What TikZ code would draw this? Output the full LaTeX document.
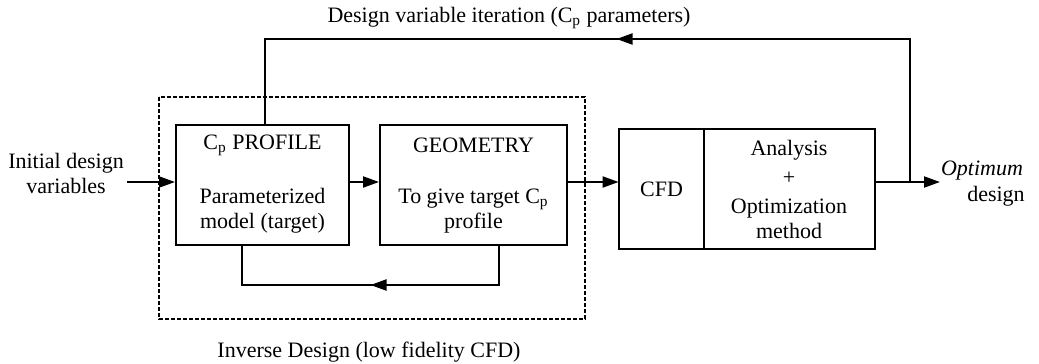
\documentclass[tikz,border=0pt]{standalone}
\usepackage{fontspec}
\setmainfont{Liberation Serif}
\usetikzlibrary{arrows.meta,decorations.markings}
\newcommand{\Cp}{C\textsubscript{p}}
\begin{document}
\begin{tikzpicture}[x=0.5pt,y=-0.5pt,
  every node/.style={font=\fontsize{11}{13.5}\selectfont},
  block/.style={draw,line width=1pt,minimum height=60pt,inner sep=0pt,align=center},
  cell/.style={minimum height=60pt,inner sep=0pt,align=center},
  flow/.style={line width=1pt,-{Triangle[length=8pt,width=5.5pt]}},
  link/.style={line width=1pt},
  midarrow/.style={decoration={markings,mark=at position #1 with {\arrow{Triangle[length=8pt,width=5.5pt]}}},postaction={decorate}},
  lbl/.style={inner sep=0pt,align=center}]
\useasboundingbox (0,0) rectangle (1039,364);

% inverse design frame
\draw[line width=0.6pt,dash pattern=on 2pt off 1pt] (159,97) rectangle (585,319);

% blocks
\node[block,minimum width=86.5pt] (cp) at (262.5,185) {};
\node[block,minimum width=93.5pt] (geo) at (473.5,185) {};
\node[cell,minimum width=42.5pt] (cfd) at (661.5,189) {};
\node[cell,minimum width=85pt,anchor=west] (ana) at (cfd.east) {};
\draw[line width=1pt] (cfd.north west) rectangle (ana.south east);
\draw[line width=1pt] (cfd.north east) -- (cfd.south east);

% block texts
\node[lbl] (cpt) at (262.5,145) {\Cp{} PROFILE};
\node[lbl] (cpb) at (262.5,211) {Parameterized\\[-1pt]model (target)};
\node[lbl] (geot) at (473.5,145) {GEOMETRY};
\node[lbl] (geob) at (473.5,211) {To give target \Cp\\[-1pt]profile};
\node[lbl] (cfdt) at (cfd.center) {CFD};
\node[lbl] (anat) at (789,189) {Analysis\\[1pt]+\\[1pt]Optimization\\[-1pt]method};

% outside texts
\node[lbl] (init) at (66,173) {Initial design\\[-1pt]variables};
\node[lbl,font=\fontsize{11}{13.5}\selectfont\itshape] (opt1) at (982,171) {Optimum};
\node[lbl] (opt2) at (996,196) {design};
\node[lbl] (iter) at (509,18) {Design variable iteration (\Cp{} parameters)};
\node[lbl] (inv) at (369,352) {Inverse Design (low fidelity CFD)};

% main flow
\coordinate (inA) at (127,182);
\coordinate (outB) at (940,182);
\coordinate (split) at (910,182);
\draw[flow] (inA) -- (inA -| cp.west);
\draw[flow] (cp.east |- 0,182) -- (geo.west |- 0,182);
\draw[flow] (geo.east |- 0,182) -- (cfd.west |- 0,182);
\draw[flow] (ana.east |- 0,182) -- (outB);

% design variable iteration loop
\draw[link,midarrow=0.5] (split) -- (910,39) -- (265,39) -- (265,0 |- cp.north);

% inner inverse-design loop
\draw[link,midarrow=0.5] (499,0 |- geo.south) -- (499,285) -- (242,285) -- (242,0 |- cp.south);
\end{tikzpicture}
\end{document}
